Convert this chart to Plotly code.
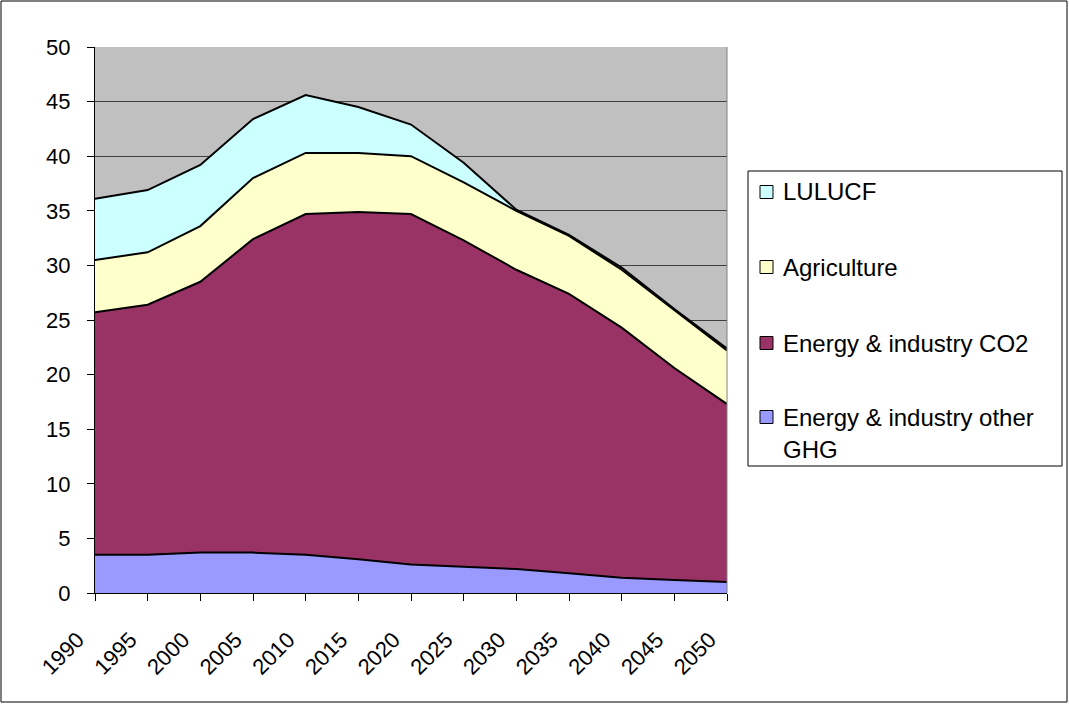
import plotly.graph_objects as go

years = [1990, 1995, 2000, 2005, 2010, 2015, 2020, 2025, 2030, 2035, 2040, 2045, 2050]
energy_other_ghg = [3.5, 3.5, 3.7, 3.7, 3.5, 3.1, 2.6, 2.4, 2.2, 1.8, 1.4, 1.2, 1.0]
energy_co2 = [22.2, 22.9, 24.8, 28.7, 31.2, 31.8, 32.1, 29.9, 27.4, 25.6, 22.9, 19.4, 16.3]
agriculture = [4.8, 4.8, 5.1, 5.6, 5.6, 5.4, 5.3, 5.3, 5.4, 5.3, 5.3, 5.3, 4.9]
lulucf = [5.6, 5.7, 5.6, 5.4, 5.3, 4.2, 2.9, 1.8, 0.1, 0.1, 0.2, 0.1, 0.2]

series_names = ["Energy & industry other GHG", "Energy & industry CO2", "Agriculture", "LULUCF"]
series_values = [energy_other_ghg, energy_co2, agriculture, lulucf]
series_colors = ["#9999FF", "#993366", "#FFFFCC", "#CCFFFF"]

W, H = 1069, 704
L, R, T, B = 95, 342, 47, 111
pw = W - L - R
ph = H - T - B
FONT = "Liberation Sans, Arial, sans-serif"


def px_x(px):
    return (px - L) / pw


def px_y(py):
    return (H - B - py) / ph


fig = go.Figure()
for name, vals, col in zip(series_names, series_values, series_colors):
    fig.add_trace(go.Scatter(
        x=years, y=vals, name=name, stackgroup="one", mode="lines",
        line=dict(color="black", width=2), fillcolor=col, showlegend=False,
    ))

shapes = []
annotations = []
# outer chart frame
shapes.append(dict(type="rect", xref="paper", yref="paper",
                   x0=px_x(1), x1=px_x(1067), y0=px_y(702), y1=px_y(1),
                   line=dict(color="black", width=1), fillcolor="rgba(0,0,0,0)", layer="below"))
# right edge of plot area
shapes.append(dict(type="line", xref="paper", yref="paper", x0=1, x1=1, y0=0, y1=1,
                   line=dict(color="#808080", width=1)))
# legend box
shapes.append(dict(type="rect", xref="paper", yref="paper",
                   x0=px_x(748), x1=px_x(1062), y0=px_y(466), y1=px_y(171),
                   line=dict(color="black", width=1), fillcolor="white"))

legend_rows = [
    (3, ["LULUCF"], 192),
    (2, ["Agriculture"], 267),
    (1, ["Energy & industry CO2"], 343),
    (0, ["Energy & industry other", "GHG"], 417),
]
for idx, lines, yc in legend_rows:
    shapes.append(dict(type="rect", xref="paper", yref="paper",
                       x0=px_x(760), x1=px_x(773), y0=px_y(yc + 6.5), y1=px_y(yc - 6.5),
                       line=dict(color="black", width=1), fillcolor=series_colors[idx]))
    for k, txt in enumerate(lines):
        annotations.append(dict(xref="paper", yref="paper", x=px_x(781), y=px_y(yc + 32 * k),
                                text=txt, showarrow=False, xanchor="left", yanchor="middle",
                                font=dict(family=FONT, size=24, color="black")))

pad = "\u00a0" * 4
fig.update_layout(
    width=W, height=H,
    margin=dict(l=L, r=R, t=T, b=B),
    paper_bgcolor="white", plot_bgcolor="#C0C0C0",
    font=dict(family=FONT, size=23, color="black"),
    showlegend=False,
    shapes=shapes,
    annotations=annotations,
    xaxis=dict(
        range=[1990, 2050], tickvals=years, ticktext=[str(y) + pad for y in years],
        tickangle=-45, ticks="outside", ticklen=7, tickcolor="black",
        showgrid=False, showline=True, linecolor="black", linewidth=1,
        zeroline=False, tickfont=dict(size=22),
    ),
    yaxis=dict(
        range=[0, 50], dtick=5, ticks="outside", ticklen=7, tickcolor="black",
        showgrid=True, gridcolor="#404040", gridwidth=1,
        showline=True, linecolor="black", linewidth=1, zeroline=False,
        tickfont=dict(size=22), ticklabelstandoff=12,
    ),
)

fig.write_html("out.html", config={"displayModeBar": False},
               post_script="document.body.style.margin='0';")
